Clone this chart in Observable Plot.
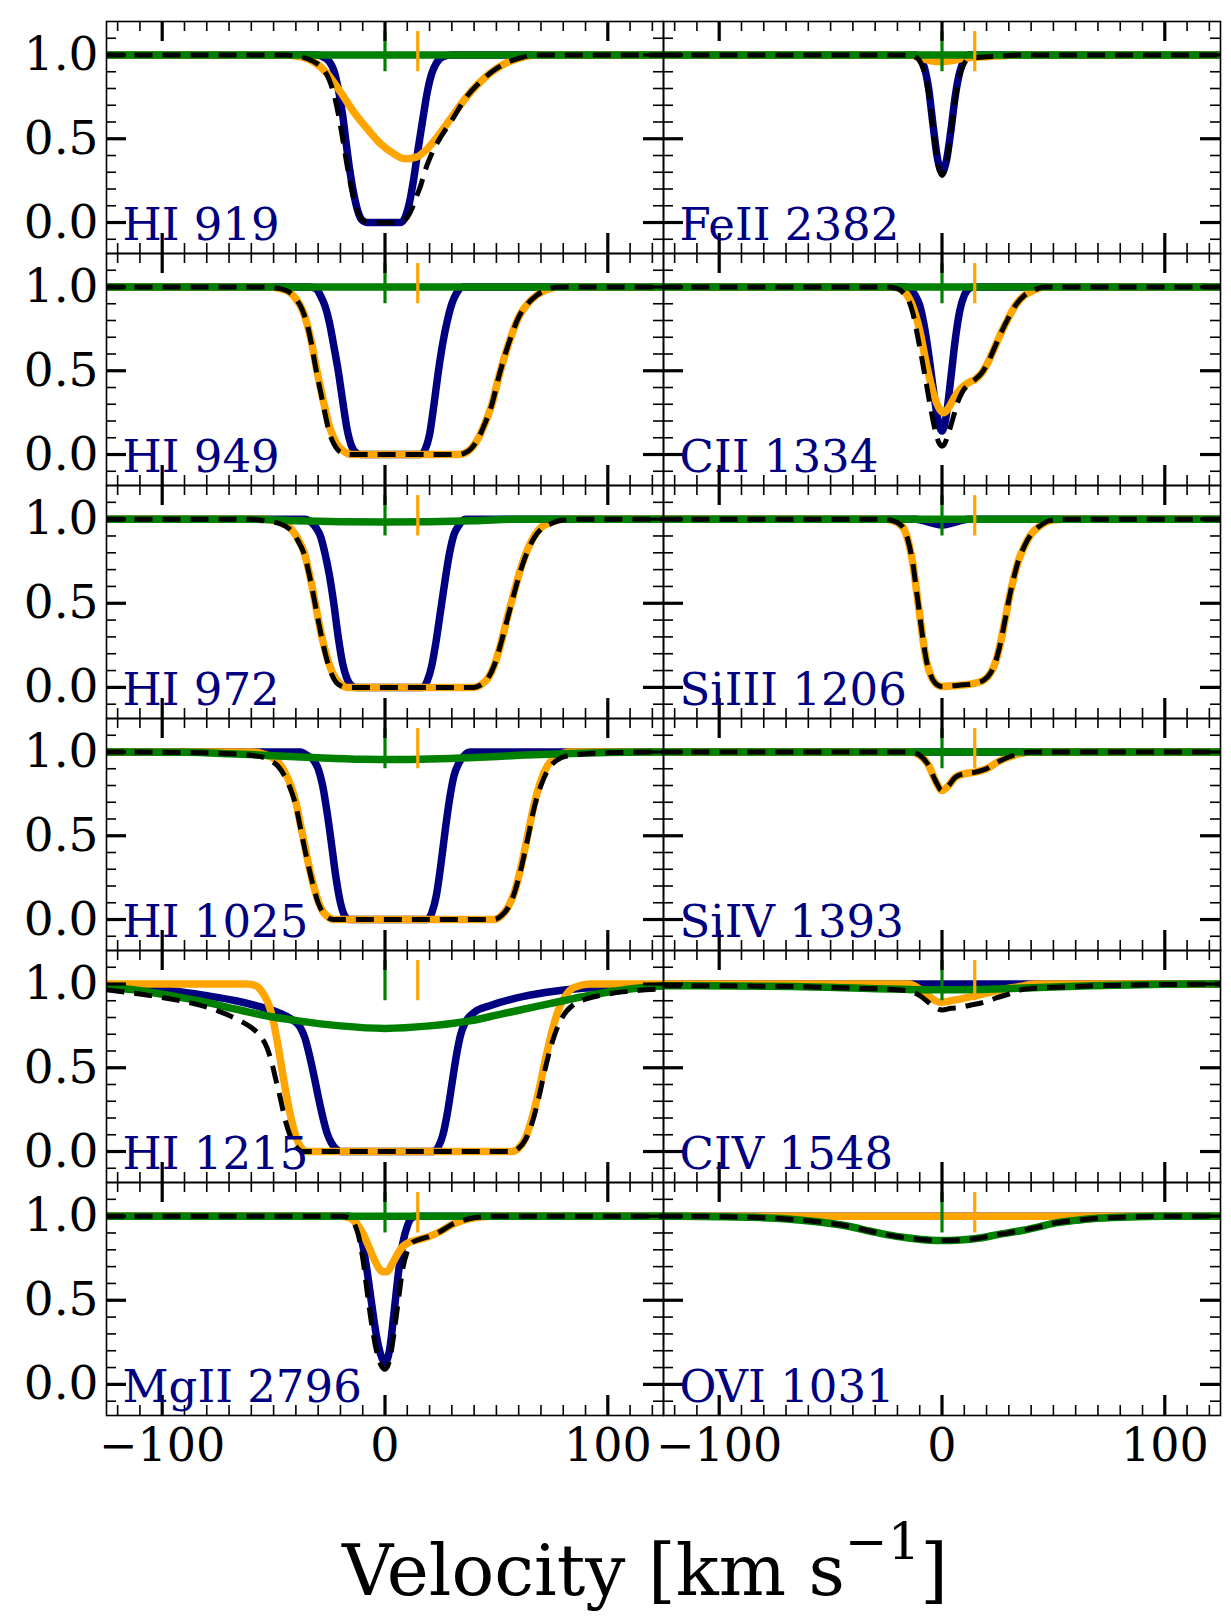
<!DOCTYPE html>
<html><head><meta charset="utf-8">
<script src="https://cdn.jsdelivr.net/npm/d3@7"></script>
<script src="https://cdn.jsdelivr.net/npm/@observablehq/plot@0.6"></script>
<style>
body{margin:0;background:#fff;}
#fig{position:relative;width:1231px;height:1619px;font-family:"DejaVu Serif";background:#fff;}
.panel{position:absolute;}
#xlabel{position:absolute;left:645px;top:1535px;transform:translateX(-50%);font-family:"DejaVu Serif";font-size:71px;line-height:71px;white-space:nowrap;color:#000;}
#xlabel span{font-size:51px;position:relative;top:-36px;}
</style></head><body><div id="fig"><div id="xlabel">Velocity [km s<span>−1</span>]</div></div>
<script>
// ---------------- data (velocity km/s, normalised flux) ----------------
const FLAT = [[-125, 1], [125, 1]];

// HI 919
const hi919_navy = [[-125,1],[-31,1],[-28,0.99],[-25,0.96],[-23,0.91],[-21,0.8],[-19,0.64],[-17.5,0.48],[-16,0.33],[-14,0.17],[-12,0.06],[-10,0.01],[-8,0],[7,0],[9,0.03],[11,0.12],[13,0.27],[15,0.45],[17,0.62],[19,0.78],[21,0.89],[23,0.95],[26,0.99],[30,1],[125,1]];
const hi919_orange = [[-125,1],[-45,1],[-38,0.99],[-32,0.96],[-26,0.89],[-20,0.78],[-14,0.66],[-8,0.56],[-2,0.47],[4,0.41],[9,0.38],[14,0.39],[19,0.44],[24,0.52],[30,0.63],[36,0.74],[42,0.83],[48,0.9],[54,0.95],[60,0.98],[68,1],[125,1]];
const hi919_green = FLAT;
const hi919_total = [[-125,1],[-45,1],[-38,0.99],[-32,0.96],[-28,0.92],[-25,0.85],[-23,0.77],[-21,0.65],[-19,0.5],[-17,0.34],[-15,0.2],[-13,0.09],[-11,0.03],[-9,0.005],[-7,0],[6,0],[8,0.01],[10,0.03],[12,0.08],[14,0.15],[16,0.22],[18,0.31],[20,0.38],[22,0.44],[25,0.51],[30,0.61],[36,0.74],[42,0.83],[48,0.9],[54,0.95],[60,0.98],[68,1],[125,1]];

// HI 949
const hi949_navy = [[-125,1],[-34,1],[-31,0.99],[-29,0.95],[-27,0.89],[-25,0.79],[-23,0.65],[-21,0.5],[-19,0.32],[-17,0.15],[-15,0.05],[-13,0.01],[-11,0],[16,0],[18,0.03],[20,0.12],[22,0.3],[24,0.5],[26,0.67],[28,0.8],[30,0.9],[32,0.96],[35,1],[125,1]];
const hi949_orange = [[-125,1],[-52,1],[-47,0.99],[-43,0.97],[-40,0.93],[-37,0.86],[-35,0.78],[-33,0.67],[-31,0.53],[-29,0.4],[-27,0.28],[-25,0.17],[-23,0.1],[-21,0.05],[-18,0.015],[-15,0],[33,0],[36,0.01],[39,0.04],[42,0.1],[45,0.19],[48,0.3],[51,0.46],[54,0.6],[57,0.72],[60,0.82],[64,0.9],[68,0.95],[72,0.98],[78,1],[125,1]];
const hi949_green = FLAT;
const hi949_total = [[-125,1],[-52,1],[-47,0.99],[-43,0.97],[-40,0.93],[-37,0.86],[-35,0.78],[-33,0.66],[-31,0.51],[-29,0.38],[-27,0.25],[-25,0.13],[-23,0.065],[-21,0.025],[-18,0.005],[-15,0],[33,0],[36,0.01],[39,0.04],[42,0.1],[45,0.19],[48,0.3],[51,0.46],[54,0.6],[57,0.72],[60,0.82],[64,0.9],[68,0.95],[72,0.98],[78,1],[125,1]];

// HI 972
const hi972_navy = [[-125,1],[-36,1],[-33,0.98],[-31,0.95],[-29,0.9],[-27,0.8],[-25,0.67],[-23,0.5],[-21,0.3],[-19,0.14],[-17,0.05],[-15,0.01],[-13,0],[17,0],[19,0.04],[21,0.13],[23,0.28],[25,0.46],[27,0.64],[29,0.8],[31,0.91],[33,0.96],[36,1],[125,1]];
const hi972_orange = [[-125,1],[-54,1],[-49,0.99],[-45,0.97],[-42,0.94],[-39,0.88],[-36,0.79],[-34,0.68],[-32,0.55],[-30,0.41],[-28,0.28],[-26,0.18],[-24,0.1],[-22,0.05],[-20,0.02],[-17,0],[40,0],[43,0.015],[46,0.05],[49,0.13],[52,0.26],[55,0.42],[58,0.57],[61,0.71],[64,0.82],[67,0.9],[70,0.95],[74,0.98],[80,1],[125,1]];
const hi972_green = [[-125,1],[-60,1],[-40,0.99],[-20,0.985],[0,0.983],[20,0.985],[40,0.99],[60,1],[125,1]];
const hi972_total = [[-125,1],[-60,1],[-54,0.99],[-49,0.98],[-45,0.96],[-42,0.93],[-39,0.87],[-36,0.78],[-34,0.67],[-32,0.54],[-30,0.4],[-28,0.27],[-26,0.16],[-24,0.08],[-22,0.03],[-20,0.01],[-17,0],[40,0],[43,0.015],[46,0.05],[49,0.13],[52,0.26],[55,0.41],[58,0.56],[61,0.7],[64,0.81],[67,0.89],[70,0.94],[74,0.97],[80,0.995],[90,1],[125,1]];

// HI 1025
const hi1025_navy = [[-125,1],[-38,1],[-35,0.98],[-32,0.95],[-30,0.9],[-28,0.8],[-26,0.64],[-24,0.45],[-22,0.25],[-20,0.1],[-18,0.02],[-16,0],[19,0],[21,0.04],[23,0.14],[25,0.32],[27,0.53],[29,0.72],[31,0.86],[33,0.93],[35,0.97],[38,1],[125,1]];
const hi1025_orange = [[-125,1],[-60,1],[-55,0.99],[-51,0.97],[-48,0.94],[-45,0.88],[-42,0.79],[-40,0.7],[-38,0.57],[-36,0.44],[-34,0.31],[-32,0.2],[-30,0.11],[-28,0.05],[-26,0.02],[-23,0],[49,0],[52,0.02],[55,0.07],[58,0.16],[61,0.31],[64,0.5],[67,0.69],[70,0.83],[73,0.92],[77,0.97],[83,1],[125,1]];
const hi1025_green = [[-125,1],[-90,0.998],[-70,0.99],[-50,0.978],[-30,0.966],[-10,0.957],[5,0.955],[20,0.958],[40,0.967],[60,0.98],[80,0.99],[100,0.997],[125,1]];
const hi1025_total = [[-125,1],[-90,0.997],[-70,0.99],[-60,0.98],[-55,0.97],[-51,0.945],[-48,0.915],[-45,0.855],[-42,0.765],[-40,0.68],[-38,0.55],[-36,0.42],[-34,0.3],[-32,0.19],[-30,0.1],[-28,0.045],[-26,0.015],[-23,0],[49,0],[52,0.02],[55,0.065],[58,0.155],[61,0.3],[64,0.48],[67,0.67],[70,0.8],[73,0.89],[77,0.95],[83,0.98],[100,0.995],[125,1]];

// HI 1215
const hi1215_navy = [[-125,0.985],[-110,0.975],[-96,0.96],[-80,0.93],[-67,0.9],[-55,0.86],[-48,0.83],[-42,0.79],[-38,0.74],[-36,0.68],[-34,0.58],[-32,0.46],[-30,0.33],[-28,0.21],[-26,0.11],[-24,0.05],[-22,0.015],[-20,0],[22,0],[24,0.03],[26,0.1],[28,0.23],[30,0.4],[32,0.57],[34,0.7],[36,0.77],[40,0.83],[47,0.87],[57,0.91],[68,0.94],[85,0.97],[105,0.985],[125,0.99]];
const hi1215_orange = [[-125,1],[-62,1],[-58,0.99],[-55,0.95],[-52,0.87],[-50,0.77],[-48,0.63],[-46,0.47],[-44,0.32],[-42,0.19],[-40,0.09],[-38,0.03],[-35,0],[57,0],[60,0.02],[63,0.08],[66,0.2],[69,0.36],[72,0.55],[75,0.72],[78,0.85],[81,0.93],[85,0.98],[92,1],[125,1]];
const hi1215_green = [[-125,0.98],[-110,0.96],[-96,0.93],[-80,0.89],[-67,0.85],[-55,0.815],[-39,0.78],[-20,0.75],[0,0.735],[20,0.75],[38,0.78],[52,0.82],[66,0.86],[80,0.9],[95,0.94],[110,0.97],[125,0.99]];
const hi1215_total = [[-125,0.965],[-110,0.94],[-96,0.91],[-85,0.88],[-75,0.84],[-65,0.78],[-60,0.74],[-56,0.69],[-53,0.62],[-51,0.54],[-49,0.43],[-47,0.32],[-45,0.2],[-43,0.11],[-41,0.05],[-39,0.015],[-37,0],[57,0],[60,0.02],[63,0.07],[66,0.17],[69,0.32],[72,0.5],[75,0.65],[78,0.76],[81,0.83],[85,0.88],[90,0.91],[100,0.94],[112,0.96],[125,0.97]];

// MgII 2796
const mg2796_navy = [[-125,1],[-16,1],[-14,0.98],[-12,0.93],[-10,0.83],[-8,0.67],[-6,0.48],[-4,0.3],[-2,0.18],[0,0.13],[2,0.2],[4,0.42],[6,0.66],[8,0.84],[10,0.94],[12,0.99],[14,1],[125,1]];
const mg2796_orange = [[-125,1],[-20,1],[-16,0.99],[-13,0.96],[-10,0.9],[-7,0.81],[-4,0.72],[-1,0.67],[1,0.67],[3,0.71],[5,0.76],[8,0.82],[11,0.845],[15,0.86],[20,0.88],[25,0.91],[30,0.95],[35,0.975],[40,0.99],[47,1],[125,1]];
const mg2796_green = FLAT;
const mg2796_total = [[-125,1],[-20,1],[-16,0.99],[-14,0.96],[-12,0.89],[-10,0.75],[-8,0.55],[-6,0.36],[-4,0.21],[-2,0.12],[0,0.09],[2,0.14],[4,0.3],[6,0.5],[8,0.69],[10,0.79],[12,0.84],[15,0.86],[20,0.88],[25,0.91],[30,0.95],[35,0.975],[40,0.99],[47,1],[125,1]];

// FeII 2382
const fe2382_navy = [[-125,1],[-12,1],[-10,0.98],[-8,0.93],[-6,0.8],[-4,0.58],[-2,0.38],[0,0.3],[2,0.37],[4,0.55],[6,0.76],[8,0.9],[10,0.97],[12,1],[125,1]];
const fe2382_orange = [[-125,1],[-15,1],[-10,0.985],[-5,0.965],[0,0.96],[5,0.968],[10,0.982],[20,0.99],[35,1],[125,1]];
const fe2382_green = FLAT;
const fe2382_total = [[-125,1],[-14,1],[-12,0.99],[-10,0.965],[-8,0.9],[-6,0.77],[-4,0.56],[-2,0.36],[0,0.28],[2,0.35],[4,0.53],[6,0.74],[8,0.88],[10,0.95],[12,0.975],[16,0.985],[25,0.993],[35,1],[125,1]];

// CII 1334
const c1334_navy = [[-125,1],[-16,1],[-14,0.98],[-12,0.95],[-10,0.89],[-8,0.77],[-6,0.6],[-4,0.4],[-2,0.22],[0,0.14],[2,0.24],[4,0.46],[6,0.69],[8,0.86],[10,0.95],[12,0.99],[14,1],[125,1]];
const c1334_orange = [[-125,1],[-22,1],[-19,0.99],[-16,0.96],[-13,0.88],[-10,0.74],[-7,0.54],[-4,0.37],[-1,0.27],[1,0.25],[3,0.28],[6,0.35],[9,0.4],[12,0.43],[15,0.45],[18,0.49],[21,0.56],[24,0.65],[27,0.74],[30,0.82],[33,0.89],[37,0.95],[41,0.98],[46,1],[125,1]];
const c1334_green = FLAT;
const c1334_total = [[-125,1],[-25,1],[-20,0.99],[-17,0.96],[-15,0.92],[-13,0.84],[-11,0.71],[-9,0.57],[-7,0.42],[-5,0.27],[-3,0.14],[-1,0.06],[0,0.05],[1,0.06],[3,0.13],[5,0.22],[7,0.31],[9,0.37],[12,0.42],[15,0.45],[18,0.49],[21,0.56],[24,0.65],[27,0.74],[30,0.82],[33,0.89],[37,0.95],[41,0.98],[46,1],[125,1]];

// SiIII 1206
const si1206_navy = [[-125,1],[-12,1],[-8,0.99],[-4,0.975],[0,0.965],[4,0.975],[8,0.99],[12,1],[125,1]];
const si1206_orange = [[-125,1],[-26,1],[-22,0.99],[-19,0.97],[-17,0.94],[-15,0.86],[-13,0.73],[-11.5,0.58],[-10,0.43],[-8.5,0.28],[-7,0.16],[-5,0.07],[-3,0.025],[0,0.005],[5,0.01],[10,0.015],[15,0.025],[19,0.045],[22,0.09],[24,0.15],[26,0.25],[28,0.38],[30,0.52],[32,0.64],[34,0.74],[37,0.84],[40,0.91],[44,0.96],[48,0.99],[54,1],[125,1]];
const si1206_green = FLAT;
const si1206_total = [[-125,1],[-26,1],[-22,0.99],[-19,0.97],[-17,0.94],[-15,0.86],[-13,0.73],[-11.5,0.58],[-10,0.43],[-8.5,0.28],[-7,0.16],[-5,0.07],[-3,0.025],[0,0.005],[5,0.01],[10,0.015],[15,0.025],[19,0.045],[22,0.09],[24,0.15],[26,0.25],[28,0.38],[30,0.52],[32,0.64],[34,0.74],[37,0.84],[40,0.91],[44,0.96],[48,0.99],[54,1],[125,1]];

// SiIV 1393
const si1393_navy = FLAT;
const si1393_orange = [[-125,1],[-14,1],[-10,0.98],[-6,0.92],[-3,0.83],[0,0.77],[3,0.8],[6,0.85],[10,0.87],[15,0.88],[20,0.9],[25,0.94],[30,0.97],[35,0.99],[40,1],[125,1]];
const si1393_green = FLAT;
const si1393_total = [[-125,1],[-14,1],[-10,0.98],[-6,0.92],[-3,0.83],[0,0.77],[3,0.8],[6,0.85],[10,0.87],[15,0.88],[20,0.9],[25,0.94],[30,0.97],[35,0.99],[40,1],[125,1]];

// CIV 1548
const c1548_navy = FLAT;
const c1548_orange = [[-125,1],[-15,1],[-10,0.97],[-6,0.93],[-3,0.9],[0,0.89],[4,0.9],[8,0.91],[15,0.93],[20,0.945],[25,0.96],[30,0.975],[35,0.985],[42,1],[125,1]];
const c1548_green = [[-125,0.99],[-67,0.985],[-30,0.972],[-17,0.968],[0,0.965],[15,0.967],[34,0.975],[67,0.99],[100,0.998],[125,1]];
const c1548_total = [[-125,0.99],[-80,0.987],[-40,0.975],[-20,0.965],[-14,0.955],[-10,0.93],[-6,0.89],[-3,0.86],[0,0.845],[4,0.855],[8,0.86],[13,0.875],[17,0.885],[21,0.9],[25,0.92],[30,0.94],[34,0.96],[42,0.975],[51,0.98],[70,0.99],[90,0.995],[125,1]];

// OVI 1031
const o1031_navy = FLAT;
const o1031_orange = FLAT;
const o1031_green = [[-125,1],[-100,0.997],[-85,0.993],[-71,0.985],[-55,0.965],[-42,0.94],[-32,0.91],[-25,0.89],[-15,0.87],[-5,0.857],[0,0.855],[8,0.858],[17,0.87],[25,0.89],[34,0.91],[43,0.935],[51,0.96],[60,0.975],[67,0.985],[84,0.995],[100,0.999],[125,1]];
const o1031_total = [[-125,1],[-100,0.997],[-85,0.993],[-71,0.985],[-55,0.965],[-42,0.94],[-32,0.91],[-25,0.89],[-15,0.87],[-5,0.857],[0,0.855],[8,0.858],[17,0.87],[25,0.89],[34,0.91],[43,0.935],[51,0.96],[60,0.975],[67,0.985],[84,0.995],[100,0.999],[125,1]];

// component centroids (vertical markers)
const markerGreen = [0];
const markerOrange = [14.7];

// axes
const xMajor = [-100, 0, 100];
const xMinor = [-120,-110,-90,-80,-70,-60,-50,-40,-30,-20,-10,10,20,30,40,50,60,70,80,90,110,120];
const yMajor = [0, 0.5, 1.0];
const yMinor = [-0.1, 0.1, 0.2, 0.3, 0.4, 0.6, 0.7, 0.8, 0.9, 1.1];

const leftLabels = ["HI 919", "HI 949", "HI 972", "HI 1025", "HI 1215", "MgII 2796"];
const rightLabels = ["FeII 2382", "CII 1334", "SiIII 1206", "SiIV 1393", "CIV 1548", "OVI 1031"];

// ---------------- build table for the library ----------------
const leftSeries = [
  [hi919_navy, hi919_orange, hi919_green, hi919_total],
  [hi949_navy, hi949_orange, hi949_green, hi949_total],
  [hi972_navy, hi972_orange, hi972_green, hi972_total],
  [hi1025_navy, hi1025_orange, hi1025_green, hi1025_total],
  [hi1215_navy, hi1215_orange, hi1215_green, hi1215_total],
  [mg2796_navy, mg2796_orange, mg2796_green, mg2796_total]
];
const rightSeries = [
  [fe2382_navy, fe2382_orange, fe2382_green, fe2382_total],
  [c1334_navy, c1334_orange, c1334_green, c1334_total],
  [si1206_navy, si1206_orange, si1206_green, si1206_total],
  [si1393_navy, si1393_orange, si1393_green, si1393_total],
  [c1548_navy, c1548_orange, c1548_green, c1548_total],
  [o1031_navy, o1031_orange, o1031_green, o1031_total]
];

const NAVY = "#000080", ORANGE = "#FFA500", GREEN = "#008000";
const fig = document.getElementById("fig");
const rowTop = r => Math.round(20.7 + r * 232.35);
const colLeft = [106, 663];
const innerW = 557;
const minus = d => d < 0 ? "\u2212" + Math.abs(d) : String(d);

function panel(col, row) {
  const [navy, orange, green, total] = (col === 0 ? leftSeries : rightSeries)[row];
  const label = (col === 0 ? leftLabels : rightLabels)[row];
  const top = rowTop(row);
  const innerH = rowTop(row + 1) - top;
  const bottom = row === 5;
  const mL = col === 0 ? 106 : 0;
  const mR = col === 0 ? 0 : 11;
  const mB = bottom ? 70 : 0;
  const XY = {x: d => d[0], y: d => d[1], curve: "monotone-x", clip: "frame"};
  const marks = [
    Plot.line(navy, {...XY, stroke: NAVY, strokeWidth: 7.5}),
    Plot.line(orange, {...XY, stroke: ORANGE, strokeWidth: 7.5}),
    Plot.line(green, {...XY, stroke: GREEN, strokeWidth: 7.5}),
    Plot.line(total, {...XY, stroke: "black", strokeWidth: 5, strokeDasharray: "18,10", strokeLinecap: "butt"}),
    Plot.ruleX(markerGreen, {x: d => d, y1: 0.9, y2: 1.14, stroke: GREEN, strokeWidth: 3.2}),
    Plot.ruleX(markerOrange, {x: d => d, y1: 0.9, y2: 1.14, stroke: ORANGE, strokeWidth: 3.2}),
    // inward ticks on all four sides
    Plot.tickX(xMinor, {x: d => d, insetTop: innerH - 10, stroke: "black", strokeWidth: 1.6}),
    Plot.tickX(xMinor, {x: d => d, insetBottom: innerH - 10, stroke: "black", strokeWidth: 1.6}),
    Plot.tickX(xMajor, {x: d => d, insetTop: innerH - 20, stroke: "black", strokeWidth: 3.2}),
    Plot.tickX(xMajor, {x: d => d, insetBottom: innerH - 20, stroke: "black", strokeWidth: 3.2}),
    Plot.tickY(yMinor, {y: d => d, insetRight: innerW - 10, stroke: "black", strokeWidth: 1.6}),
    Plot.tickY(yMinor, {y: d => d, insetLeft: innerW - 10, stroke: "black", strokeWidth: 1.6}),
    Plot.tickY(yMajor, {y: d => d, insetRight: innerW - 20, stroke: "black", strokeWidth: 3.2}),
    Plot.tickY(yMajor, {y: d => d, insetLeft: innerW - 20, stroke: "black", strokeWidth: 3.2}),
    Plot.frame({stroke: "black", strokeWidth: 1.6}),
    Plot.text([label], {text: d => d, frameAnchor: "bottom-left", dx: 16, dy: -14, textAnchor: "start", lineAnchor: "bottom", fill: NAVY, fontSize: 45})
  ];
  if (col === 0) marks.push(Plot.axisY({ticks: yMajor, tickSize: 0, tickPadding: 8, tickFormat: d => d.toFixed(1), label: null, fontSize: 47}));
  if (bottom) marks.push(Plot.axisX({ticks: xMajor, tickSize: 0, tickPadding: 13, tickFormat: minus, label: null, fontSize: 46}));
  const svg = Plot.plot({
    width: mL + innerW + mR,
    height: innerH + mB,
    marginLeft: mL, marginRight: mR, marginTop: 0, marginBottom: mB,
    x: {domain: [-125, 125], ...(bottom ? {} : {axis: null})},
    y: {domain: [-0.185, 1.2], ...(col === 0 ? {} : {axis: null})},
    style: {fontFamily: "DejaVu Serif", fontSize: "46px", background: "transparent", overflow: "visible", color: "black", maxWidth: "none"},
    marks
  });
  svg.classList.add("panel");
  svg.style.left = (colLeft[col] - mL) + "px";
  svg.style.top = top + "px";
  fig.appendChild(svg);
}
for (let r = 0; r < 6; r++) { panel(0, r); panel(1, r); }
</script></body></html>
